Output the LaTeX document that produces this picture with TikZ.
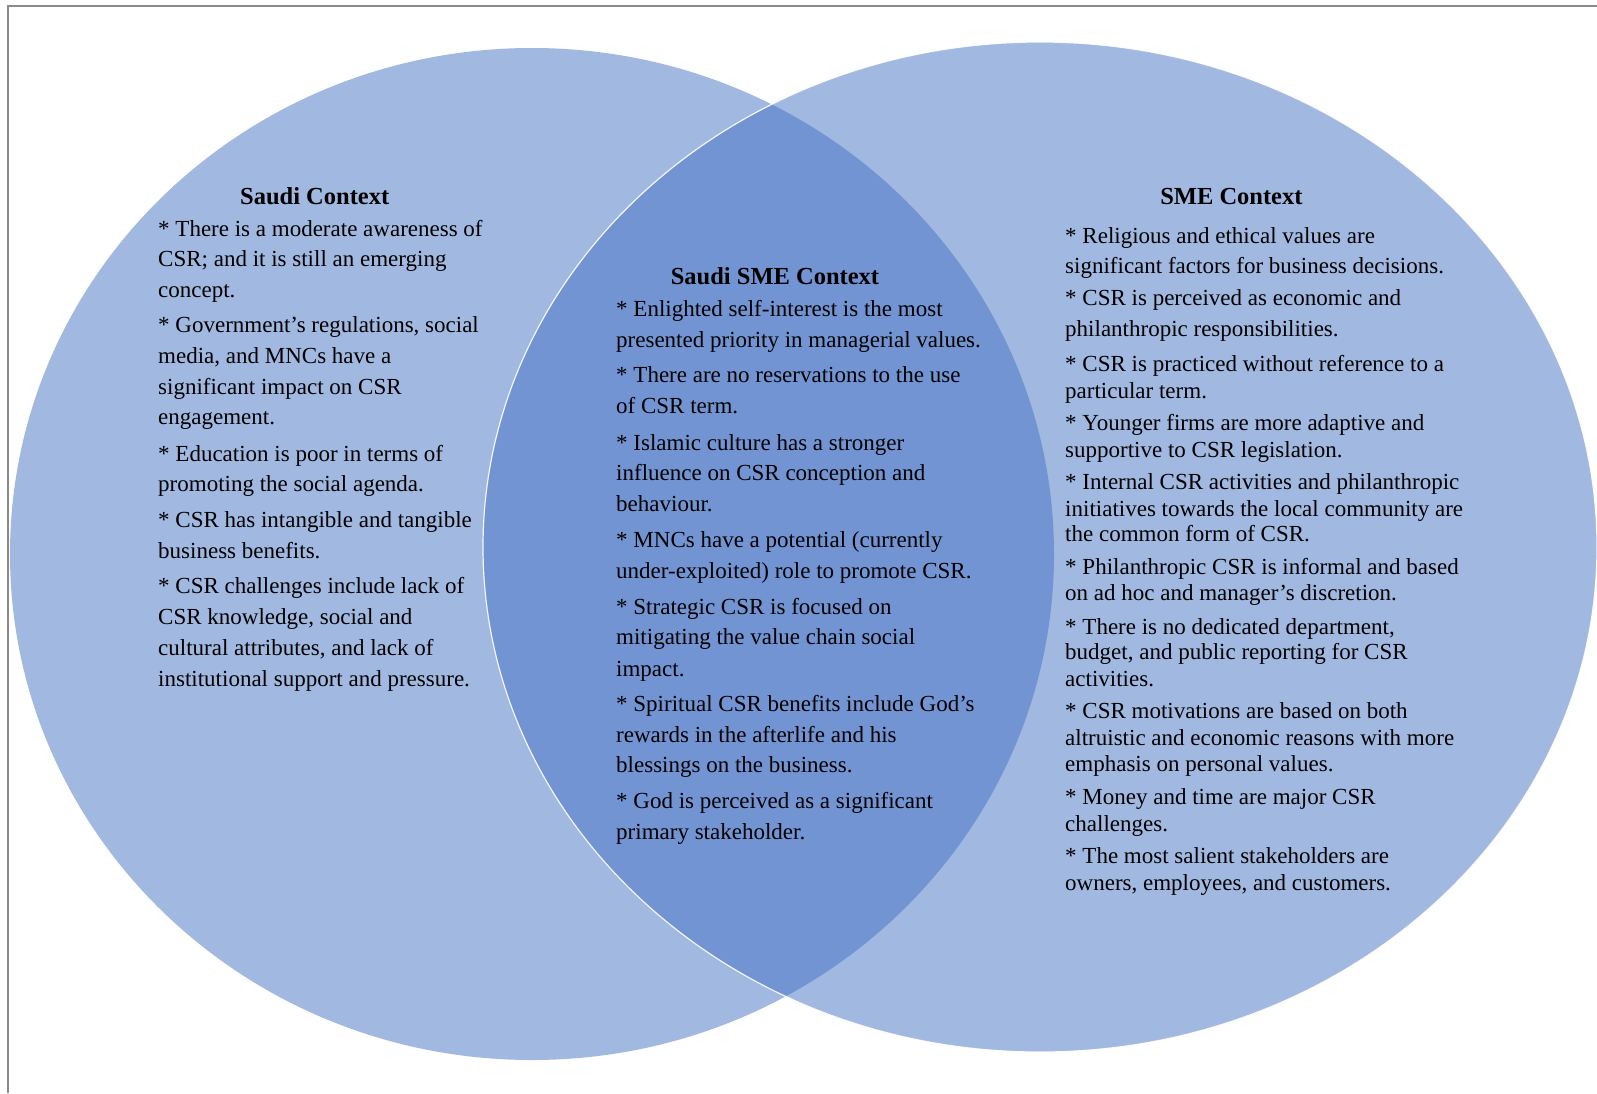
\documentclass[tikz,border=0pt]{standalone}
\usepackage{fontspec}
\setmainfont{Liberation Serif}
\definecolor{vennblue}{HTML}{4472C4}
\definecolor{framegray}{HTML}{8A8A8A}
\begin{document}
\begin{tikzpicture}[x=1pt,y=-1pt,
  body/.style={anchor=base west, inner sep=0pt, font=\fontsize{23}{27}\selectfont},
  head/.style={anchor=base, inner sep=0pt, font=\fontsize{24.5}{28}\selectfont\bfseries},
  venn/.style={fill=vennblue, fill opacity=0.5},
  framestyle/.style={draw=framegray, line width=2pt}]
\useasboundingbox (0,0) rectangle (1597,1093);
\fill[white] (0,0) rectangle (1597,1093);
\draw[framestyle] (8,1093) -- (8,6) -- (1597,6);
\path[venn] (532,554) ellipse [x radius=522, y radius=506];
\path[venn, draw=white, draw opacity=0.9, line width=1.2pt] (1040,547) ellipse [x radius=557, y radius=505];

% Saudi Context
\node[head] (saudiT) at (314.7,204) {Saudi Context};
\foreach \yy/\txt [count=\i] in {
  236.2/{* There is a moderate awareness of},
  266.7/{CSR; and it is still an emerging},
  297.3/{concept.},
  332.9/{* Government’s regulations, social},
  363.5/{media, and MNCs have a},
  394.0/{significant impact on CSR},
  424.6/{engagement.},
  461.3/{* Education is poor in terms of},
  491.8/{promoting the social agenda.},
  527.5/{* CSR has intangible and tangible},
  558.0/{business benefits.},
  593.7/{* CSR challenges include lack of},
  624.2/{CSR knowledge, social and},
  655.8/{cultural attributes, and lack of},
  686.3/{institutional support and pressure.}}
  \node[body] (sl\i) at (158,\yy) {\txt};

% Saudi SME Context
\node[head] (midT) at (775,284) {Saudi SME Context};
\foreach \yy/\txt [count=\i] in {
  316.6/{* Enlighted self-interest is the most},
  347.2/{presented priority in managerial values.},
  382.8/{* There are no reservations to the use},
  413.4/{of CSR term.},
  450.0/{* Islamic culture has a stronger},
  480.6/{influence on CSR conception and},
  511.2/{behaviour.},
  547.8/{* MNCs have a potential (currently},
  578.4/{under-exploited) role to promote CSR.},
  614.0/{* Strategic CSR is focused on},
  644.6/{mitigating the value chain social},
  676.2/{impact.},
  711.8/{* Spiritual CSR benefits include God’s},
  742.4/{rewards in the afterlife and his},
  772.9/{blessings on the business.},
  808.6/{* God is perceived as a significant},
  839.1/{primary stakeholder.}}
  \node[body] (ml\i) at (616,\yy) {\txt};

% SME Context
\node[head] (smeT) at (1231.4,204.6) {SME Context};
\foreach \yy/\txt [count=\i] in {
  243.3/{* Religious and ethical values are},
  273.8/{significant factors for business decisions.},
  305.4/{* CSR is perceived as economic and},
  336.0/{philanthropic responsibilities.},
  371.6/{* CSR is practiced without reference to a},
  398.1/{particular term.},
  430.7/{* Younger firms are more adaptive and},
  457.2/{supportive to CSR legislation.},
  489.8/{* Internal CSR activities and philanthropic},
  516.3/{initiatives towards the local community are},
  541.7/{the common form of CSR.},
  574.3/{* Philanthropic CSR is informal and based},
  600.8/{on ad hoc and manager’s discretion.},
  634.4/{* There is no dedicated department,},
  659.9/{budget, and public reporting for CSR},
  686.3/{activities.},
  718.9/{* CSR motivations are based on both},
  745.4/{altruistic and economic reasons with more},
  771.9/{emphasis on personal values.},
  804.5/{* Money and time are major CSR},
  831.0/{challenges.},
  863.6/{* The most salient stakeholders are},
  890.0/{owners, employees, and customers.}}
  \node[body] (rl\i) at (1065,\yy) {\txt};
\end{tikzpicture}
\end{document}
